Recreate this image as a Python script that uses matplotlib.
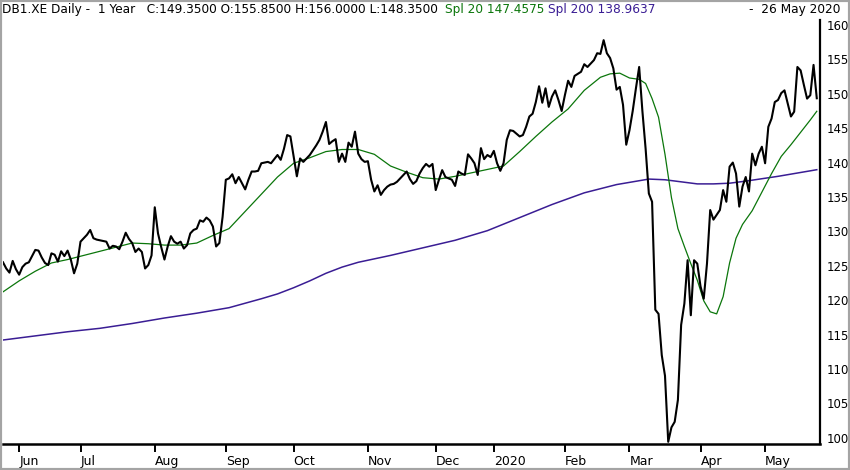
import matplotlib
matplotlib.use("Agg")
import matplotlib.pyplot as plt
from matplotlib.patches import Rectangle
import pandas as pd

# trading calendar (Xetra), 27 May 2019 - 26 May 2020
start_date = "2019-05-27"
end_date = "2020-05-26"
holidays = ["2019-06-10", "2019-12-24", "2019-12-25", "2019-12-26", "2019-12-31",
            "2020-01-01", "2020-04-10", "2020-04-13", "2020-05-01"]

# daily closes
close = [
    125.5, 124.6, 124.0, 125.7, 124.5, 123.7, 124.8, 125.3, 125.5, 126.4,
    127.3, 127.2, 126.2, 125.4, 125.1, 126.8, 126.6, 125.6, 127.1, 126.4,
    127.2, 125.9, 123.9, 125.3, 128.5, 129.0, 129.5, 130.2, 129.0, 128.8,
    128.7, 128.6, 128.5, 127.5, 127.9, 127.8, 127.4, 128.5, 129.8, 128.9,
    128.3, 127.0, 127.5, 127.0, 124.6, 125.1, 126.5, 133.5, 129.7, 127.7,
    125.9, 127.8, 129.3, 128.5, 128.2, 128.5, 127.5, 128.0, 129.7, 130.2,
    130.4, 131.6, 131.4, 132.0, 131.6, 130.7, 127.8, 128.3, 132.1, 137.5,
    137.7, 138.3, 137.0, 137.9, 137.0, 136.1, 137.5, 138.7, 138.7, 138.8,
    139.9, 140.0, 140.1, 139.9, 140.5, 141.1, 140.4, 142.0, 144.0, 143.8,
    140.9, 138.0, 140.6, 140.1, 140.6, 141.1, 141.8, 142.5, 143.3, 144.5,
    145.9, 142.7, 143.1, 143.4, 140.1, 141.3, 140.1, 142.9, 142.3, 144.5,
    141.3, 140.5, 140.1, 140.2, 137.5, 135.8, 136.7, 135.3, 136.0, 136.5,
    136.8, 136.9, 137.2, 137.7, 138.2, 138.7, 137.6, 136.9, 137.3, 138.4,
    139.2, 139.8, 139.4, 139.8, 136.0, 137.5, 138.9, 137.9, 137.7, 137.5,
    136.6, 138.7, 138.4, 138.2, 141.2, 140.6, 139.9, 138.2, 142.1, 140.5,
    141.1, 140.8, 141.7, 139.9, 138.8, 139.9, 143.3, 144.7, 144.6, 144.2,
    143.8, 144.0, 145.2, 146.7, 147.1, 148.8, 151.1, 148.7, 150.8, 148.1,
    149.6, 150.5, 149.1, 147.5, 149.8, 151.9, 151.0, 152.6, 152.9, 153.2,
    154.3, 153.9, 154.4, 154.9, 155.9, 155.8, 157.8, 155.9, 155.2, 153.7,
    150.6, 151.0, 148.4, 142.6, 144.7, 147.5, 150.8, 153.9, 147.5, 142.0,
    135.5, 134.3, 118.6, 118.0, 112.0, 109.0, 99.4, 101.5, 102.3, 105.5,
    116.4, 119.5, 125.8, 117.8, 125.8, 125.3, 122.0, 120.2, 125.3, 133.1,
    131.7, 132.4, 133.1, 136.0, 134.3, 139.4, 140.0, 138.4, 133.6, 136.5,
    137.9, 135.8, 141.3, 139.6, 141.3, 142.3, 139.9, 145.2, 146.4, 148.8,
    149.1, 150.1, 150.5, 148.6, 146.7, 147.4, 153.9, 153.4, 151.3, 149.3,
    149.8, 154.2, 149.35,
]

# 20-day average
spl20_idx = [0, 5, 10, 15, 20, 25, 30, 35, 40, 45, 50, 55, 60, 65, 70, 75, 80,
             85, 90, 95, 100, 105, 110, 115, 120, 125, 130, 135, 140, 145, 150,
             155, 160, 165, 170, 175, 180, 185, 188, 191, 194, 197, 199, 201,
             203, 205, 207, 209, 211, 213, 215, 217, 219, 221, 223, 225, 227,
             229, 232, 235, 238, 241, 244, 247, 250, 252]
spl20 = [121.2, 122.8, 124.2, 125.4, 125.9, 126.5, 127.1, 127.7, 128.3, 128.2,
         128.0, 128.0, 128.3, 129.4, 130.4, 132.9, 135.4, 137.9, 139.9, 140.7,
         141.6, 141.9, 141.9, 141.2, 139.5, 138.6, 137.8, 137.6, 138.0, 138.5,
         139.0, 139.5, 141.6, 143.8, 145.9, 147.8, 150.5, 152.4, 152.9, 153.0,
         152.3, 152.1, 151.5, 149.3, 146.6, 141.2, 134.9, 130.4, 127.8, 125.3,
         122.9, 119.9, 118.3, 118.0, 120.5, 125.4, 129.0, 131.0, 133.0, 135.7,
         138.4, 140.9, 142.6, 144.4, 146.2, 147.4575]

# 200-day average
spl200_idx = [0, 10, 20, 30, 40, 50, 60, 70, 80, 85, 90, 95, 100, 105, 110,
              115, 120, 130, 140, 150, 160, 170, 180, 190, 200, 205, 210, 215,
              220, 225, 230, 240, 250, 252]
spl200 = [114.2, 114.8, 115.4, 115.9, 116.6, 117.4, 118.1, 118.9, 120.2, 120.9,
          121.8, 122.8, 123.9, 124.8, 125.5, 126.0, 126.5, 127.6, 128.7, 130.1,
          132.0, 133.9, 135.6, 136.8, 137.6, 137.5, 137.2, 136.9, 136.9, 137.0,
          137.3, 138.0, 138.8, 138.9637]

month_names = ["Jun", "Jul", "Aug", "Sep", "Oct", "Nov", "Dec", "2020",
               "Feb", "Mar", "Apr", "May"]
y_ticks = list(range(100, 161, 5))

dates = pd.bdate_range(start_date, end_date)
dates = dates[~dates.isin(pd.to_datetime(holidays))]
assert len(dates) == len(close)
s = pd.Series(range(len(dates)), index=dates)
month_pos = s.groupby([dates.year, dates.month]).first().values[1:]

green = "#0b760b"
purple = "#3a1d94"

fig = plt.figure(figsize=(8.5, 4.7), dpi=100)
ax = fig.add_axes([3 / 850, 26 / 470, 817 / 850, 424 / 470])

ax.plot(spl200_idx, spl200, color=purple, lw=1.1)
ax.plot(spl20_idx, spl20, color=green, lw=0.9)
ax.plot(range(len(close)), close, color="black", lw=1.5)

ax.set_xlim(0, 253)
ax.set_ylim(99.08, 160.73)

for sp in ["top", "left"]:
    ax.spines[sp].set_visible(False)
ax.spines["right"].set_linewidth(1.6)
ax.spines["bottom"].set_linewidth(1.8)

ax.yaxis.tick_right()
ax.set_yticks(y_ticks)
ax.tick_params(axis="y", length=0, pad=5, labelsize=8.5)
ax.set_xticks(month_pos)
ax.set_xticklabels(month_names, ha="left")
ax.tick_params(axis="x", length=6, width=1.4, pad=2, labelsize=9)

ty = 1 - 10 / 470
fig.text(2 / 850, ty, "DB1.XE Daily -  1 Year   C:149.3500 O:155.8500 H:156.0000 L:148.3500",
         fontsize=8.7, va="center", ha="left")
fig.text(445 / 850, ty, "Spl 20 147.4575", color=green, fontsize=8.7, va="center", ha="left")
fig.text(548 / 850, ty, "Spl 200 138.9637", color=purple, fontsize=8.7, va="center", ha="left")
fig.text(840 / 850, ty, "-  26 May 2020", fontsize=8.7, va="center", ha="right")

fig.patches.append(Rectangle((0, 0), 1, 1, transform=fig.transFigure, fill=False,
                             edgecolor="#a4a4a4", lw=3))

fig.savefig("out.png", dpi=100)
